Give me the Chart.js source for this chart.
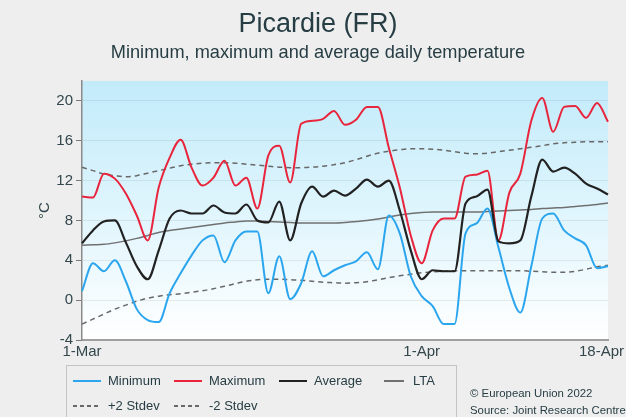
<!DOCTYPE html>
<html>
<head>
<meta charset="utf-8">
<script src="https://cdn.jsdelivr.net/npm/chart.js@4.4.1/dist/chart.umd.min.js"></script>
<style>
html, body { margin: 0; padding: 0; background: #eeeeee; }
#wrap { position: relative; width: 626px; height: 417px; overflow: hidden; font-family: "Liberation Sans", Arial, sans-serif; color: #263d44; }
#chart { position: absolute; left: 0; top: 0; }
#title { position: absolute; left: 0; width: 636px; top: 8px; text-align: center; font-size: 27px; line-height: 30px; }
#subtitle { position: absolute; left: 0; width: 636px; top: 42px; text-align: center; font-size: 18.2px; line-height: 20px; }
#legend { position: absolute; left: 66px; top: 365px; width: 391px; height: 70px; border: 1.5px solid #c4c4c4; box-sizing: border-box; }
.item { position: absolute; font-size: 13px; line-height: 16px; white-space: nowrap; }
.swatch { position: absolute; height: 2px; top: 7px; }
.credit { position: absolute; left: 470px; font-size: 11.4px; line-height: 14px; white-space: nowrap; }
</style>
</head>
<body>
<div id="wrap">
  <canvas id="chart" width="626" height="417"></canvas>
  <div id="title">Picardie (FR)</div>
  <div id="subtitle">Minimum, maximum and average daily temperature</div>
  <div id="legend"></div>
  <div class="credit" style="top:386px">© European Union 2022</div>
  <div class="credit" style="top:403px">Source: Joint Research Centre</div>
</div>
<script>
// daily values, 1 March to 18 April
const minTemp = [0.9, 3.7, 2.9, 4.0, 1.9, -0.9, -2.0, -2.2, 0.7, 2.7,
  4.5, 6.0, 6.5, 3.8, 6.0, 6.9, 6.9, 0.7, 4.4, 0.1,
  1.7, 4.9, 2.4, 3.0, 3.5, 3.9, 4.8, 3.1, 8.5, 6.7,
  2.4, 0.4, -0.6, -2.4, -2.4, 6.7, 7.7, 9.2, 5.3, 1.2,
  -1.25, 3.4, 8.2, 8.7, 7.0, 6.2, 5.5, 3.2, 3.4];
const maxTemp = [10.4, 10.3, 12.7, 12.2, 10.7, 8.5, 6.0, 11.3, 14.3, 16.1,
  13.3, 11.5, 12.3, 14.0, 11.5, 12.3, 9.2, 14.5, 15.5, 11.8,
  17.7, 18.0, 18.2, 19.0, 17.6, 18.1, 19.4, 19.4, 15.3, 11.3,
  6.5, 3.7, 7.0, 8.2, 8.2, 12.4, 12.6, 13.0, 6.0, 10.8,
  12.7, 18.0, 20.3, 16.9, 19.4, 19.5, 18.3, 19.8, 17.9];
const avgTemp = [5.7, 7.0, 7.9, 8.0, 5.8, 3.4, 2.1, 5.0, 8.2, 9.0,
  8.7, 8.7, 9.5, 8.8, 8.7, 9.6, 8.0, 7.8, 9.9, 6.0,
  9.7, 11.4, 10.4, 11.0, 10.5, 11.2, 12.1, 11.4, 12.0, 9.0,
  5.0, 2.1, 3.0, 2.9, 2.9, 9.7, 10.4, 11.1, 5.9, 5.7,
  6.0, 10.4, 14.1, 12.9, 13.3, 12.7, 11.7, 11.2, 10.6];
const ltaTemp = [5.5, 5.55, 5.6, 5.75, 5.95, 6.2, 6.5, 6.8, 7.0, 7.15,
  7.3, 7.45, 7.6, 7.75, 7.85, 7.95, 7.95, 7.9, 7.85, 7.8,
  7.75, 7.75, 7.75, 7.75, 7.8, 7.9, 8.0, 8.15, 8.35, 8.55,
  8.7, 8.8, 8.85, 8.85, 8.85, 8.85, 8.85, 8.9, 8.95, 9.0,
  9.05, 9.1, 9.2, 9.25, 9.3, 9.4, 9.5, 9.6, 9.75];
const plus2Sd = [13.35, 13.0, 12.65, 12.5, 12.4, 12.5, 12.75, 13.0, 13.25, 13.5,
  13.65, 13.75, 13.8, 13.8, 13.75, 13.65, 13.55, 13.45, 13.35, 13.3,
  13.3, 13.35, 13.45, 13.6, 13.8, 14.1, 14.45, 14.75, 14.95, 15.1,
  15.2, 15.2, 15.15, 15.05, 14.9, 14.75, 14.7, 14.75, 14.9, 15.05,
  15.2, 15.35, 15.5, 15.7, 15.8, 15.85, 15.9, 15.9, 15.9];
const minus2Sd = [-2.4, -1.9, -1.4, -0.9, -0.5, -0.1, 0.2, 0.4, 0.55, 0.65,
  0.8, 0.95, 1.15, 1.4, 1.65, 1.9, 2.05, 2.1, 2.1, 2.05,
  2.0, 1.9, 1.8, 1.75, 1.7, 1.75, 1.85, 2.05, 2.25, 2.45,
  2.6, 2.75, 2.85, 2.9, 2.95, 2.95, 2.95, 2.95, 2.95, 2.95,
  2.95, 2.9, 2.85, 2.8, 2.8, 2.9, 3.1, 3.35, 3.5];
const xTickLabels = ['1-Mar', '1-Apr', '18-Apr'];
const yLabelTicks = [-4, 0, 4, 8, 12, 16, 20];

const months = ['Jan','Feb','Mar','Apr','May','Jun','Jul','Aug','Sep','Oct','Nov','Dec'];
const dayLabels = [];
for (let i = 0; i < minTemp.length; i++) {
  const d = new Date(2022, 2, 1 + i);
  dayLabels.push(d.getDate() + '-' + months[d.getMonth()]);
}

const series = [
  { label: 'Average', data: avgTemp, color: '#222222', width: 2.2, dash: [] },
  { label: 'Maximum', data: maxTemp, color: '#e8253c', width: 2, dash: [] },
  { label: 'Minimum', data: minTemp, color: '#2ba6ee', width: 2, dash: [] },
  { label: 'LTA', data: ltaTemp, color: '#707070', width: 1.5, dash: [] },
  { label: '+2 Stdev', data: plus2Sd, color: '#686868', width: 1.5, dash: [5, 4] },
  { label: '-2 Stdev', data: minus2Sd, color: '#686868', width: 1.5, dash: [5, 4] }
];

const textColor = '#33474d';

// light blue to white fill behind the lines
const plotBackground = {
  id: 'plotBackground',
  beforeDraw(chart) {
    const a = chart.chartArea;
    const ctx = chart.ctx;
    const g = ctx.createLinearGradient(0, a.top, 0, a.bottom);
    g.addColorStop(0, '#c2ebfa');
    g.addColorStop(0.55, '#e2f6fd');
    g.addColorStop(1, '#ffffff');
    ctx.save();
    ctx.fillStyle = g;
    ctx.fillRect(a.left, a.top, a.right - a.left, a.bottom - a.top);
    ctx.restore();
  }
};

// only three date labels, the last one kept inside the canvas
const dateLabels = {
  id: 'dateLabels',
  afterDraw(chart) {
    const xs = chart.scales.x;
    const ctx = chart.ctx;
    ctx.save();
    ctx.font = '15px "Liberation Sans", Arial, sans-serif';
    ctx.fillStyle = textColor;
    ctx.textAlign = 'center';
    ctx.textBaseline = 'top';
    xTickLabels.forEach(lbl => {
      const i = dayLabels.indexOf(lbl);
      const w = ctx.measureText(lbl).width;
      let x = xs.getPixelForValue(i);
      x = Math.min(x, chart.width - 2 - w / 2);
      ctx.fillText(lbl, x, xs.top + 4);
    });
    ctx.restore();
  }
};

new Chart(document.getElementById('chart'), {
  type: 'line',
  plugins: [plotBackground, dateLabels],
  data: {
    labels: dayLabels,
    datasets: series.map(s => ({
      label: s.label,
      data: s.data,
      borderColor: s.color,
      borderWidth: s.width,
      borderDash: s.dash,
      pointRadius: 0,
      fill: false,
      cubicInterpolationMode: 'monotone'
    }))
  },
  options: {
    responsive: false,
    animation: false,
    layout: { padding: { top: 81, right: 18, bottom: 0, left: 0 } },
    plugins: {
      legend: { display: false },
      tooltip: { enabled: false },
      title: { display: false }
    },
    scales: {
      x: {
        type: 'category',
        offset: false,
        afterFit: s => { s.height = 77; },
        ticks: { display: false },
        grid: { display: false },
        border: { display: true, color: '#a0a0a0', width: 2 }
      },
      y: {
        min: -4,
        max: 22,
        afterFit: s => { s.width = 82; },
        ticks: {
          stepSize: 2,
          padding: 3,
          color: textColor,
          font: { family: '"Liberation Sans", Arial, sans-serif', size: 15 },
          callback: v => yLabelTicks.includes(v) ? v : ''
        },
        grid: {
          color: c => (c.tick && yLabelTicks.includes(c.tick.value)) ? 'rgba(0,0,0,0.07)' : 'rgba(0,0,0,0)',
          tickColor: '#7a7a7a',
          tickLength: 6,
          lineWidth: 1
        },
        border: { display: true, color: '#8a8a8a', width: 1.5 },
        title: {
          display: true,
          text: '°C',
          color: textColor,
          font: { family: '"Liberation Sans", Arial, sans-serif', size: 15 },
          padding: { top: 36, bottom: 0 }
        }
      }
    }
  }
});

// legend box: two rows like the original
const legendPos = {
  'Minimum': [0, 6, 41], 'Maximum': [0, 107, 142], 'Average': [0, 212, 247], 'LTA': [0, 317, 346],
  '+2 Stdev': [1, 6, 41], '-2 Stdev': [1, 107, 142]
};
const legend = document.getElementById('legend');
['Minimum', 'Maximum', 'Average', 'LTA', '+2 Stdev', '-2 Stdev'].forEach(name => {
  const s = series.find(d => d.label === name);
  const p = legendPos[name];
  const top = p[0] === 0 ? 7 : 32;
  const sw = document.createElement('div');
  sw.className = 'swatch';
  sw.style.left = p[1] + 'px';
  sw.style.top = (top + 7) + 'px';
  sw.style.width = (name === 'LTA' ? 20 : 28) + 'px';
  if (s.dash.length) {
    sw.style.height = '1.5px';
    sw.style.background = 'repeating-linear-gradient(to right, ' + s.color + ' 0 4px, transparent 4px 7px)';
  } else {
    sw.style.height = Math.max(1.5, s.width) + 'px';
    sw.style.background = s.color;
  }
  legend.appendChild(sw);
  const t = document.createElement('div');
  t.className = 'item';
  t.style.left = p[2] + 'px';
  t.style.top = top + 'px';
  t.textContent = name;
  legend.appendChild(t);
});
</script>
</body>
</html>
